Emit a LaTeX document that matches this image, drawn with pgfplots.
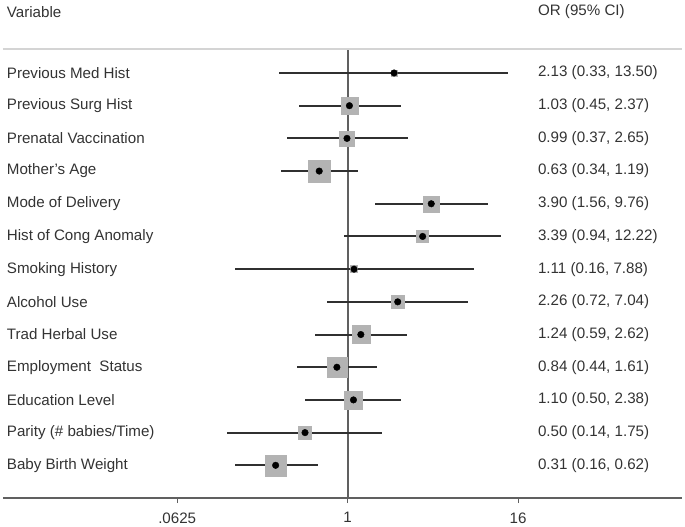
\documentclass[border=0pt]{standalone}
\usepackage{fontspec}
\setmainfont{Liberation Sans}
\usepackage{pgfplots}
\usepackage{pgfplotstable}
\pgfplotsset{compat=1.18}

\definecolor{txt}{HTML}{333333}
\definecolor{sq}{HTML}{B3B3B3}
\definecolor{ci}{HTML}{303030}
\definecolor{refl}{HTML}{606060}
\definecolor{topl}{HTML}{D4D4D4}
\newcommand\f{\fontsize{15.2}{18}\selectfont}

% pos: 13 = top row ... 1 = bottom row; w = half side of gray box (pt)
\pgfplotstableread{
pos or   lo   hi    w    label                     ci
13  2.13 0.33 13.50 3.0  {Previous Med Hist}       {2.13 (0.33, 13.50)}
12  1.03 0.45 2.37  8.5  {Previous Surg Hist}      {1.03 (0.45, 2.37)}
11  0.99 0.37 2.65  7.5  {Prenatal Vaccination}    {0.99 (0.37, 2.65)}
10  0.63 0.34 1.19  11.0 {Mother's Age}            {0.63 (0.34, 1.19)}
9   3.90 1.56 9.76  8.0  {Mode of Delivery}        {3.90 (1.56, 9.76)}
8   3.39 0.94 12.22 6.0  {Hist of Cong Anomaly}    {3.39 (0.94, 12.22)}
7   1.11 0.16 7.88  3.5  {Smoking History}         {1.11 (0.16, 7.88)}
6   2.26 0.72 7.04  6.5  {Alcohol Use}             {2.26 (0.72, 7.04)}
5   1.24 0.59 2.62  9.0  {Trad Herbal Use}         {1.24 (0.59, 2.62)}
4   0.84 0.44 1.61  10.0 {Employment\ \ Status}    {0.84 (0.44, 1.61)}
3   1.10 0.50 2.38  9.0  {Education Level}         {1.10 (0.50, 2.38)}
2   0.50 0.14 1.75  6.5  {Parity (\# babies/Time)} {0.50 (0.14, 1.75)}
1   0.31 0.16 0.62  10.5 {Baby Birth Weight}       {0.31 (0.16, 0.62)}
}\data

\begin{document}
\begin{tikzpicture}
\path[use as bounding box] (0,0) rectangle (685bp,527bp);
\begin{axis}[
    at={(3bp,29bp)}, anchor=south west,
    scale only axis,
    width=679bp, height=449bp,
    xmode=log, log basis x=2,
    xmin=0.00367, xmax=230.7,
    ymin=0, ymax=13.734,
    axis x line*=bottom,
    axis y line=none,
    x axis line style={draw=refl, line width=1.3pt, -},
    xtick={0.0625,1,16},
    xticklabels={.0625,1,16},
    minor xtick={},
    tick align=outside,
    major tick length=5bp,
    x tick style={draw=refl, line width=1pt},
    xticklabel style={font=\f, text=txt, yshift=-6bp},
    /pgf/number format/assume math mode=true,
    clip=false,
]
% weight boxes
\addplot[scatter, only marks, mark=square*,
    scatter/use mapped color={draw=sq, fill=sq},
    visualization depends on={\thisrow{w} \as \msz},
    scatter/@pre marker code/.append style={/tikz/mark size=\msz}]
    table[x=or, y=pos, meta=w] {\data};
% reference line at OR = 1
\addplot[refl, line width=2pt] coordinates {(1,0) (1,13.734)};
% confidence intervals
\addplot[draw=none, mark=none,
    error bars/.cd, x dir=both, x explicit,
    error mark=none,
    error bar style={ci, line width=2pt}]
    table[x=or, y=pos,
      x error plus expr=\thisrow{hi}-\thisrow{or},
      x error minus expr=\thisrow{or}-\thisrow{lo}] {\data};
% point estimates
\addplot[only marks, mark=*, mark size=3.3pt, black]
    table[x=or, y=pos] {\data};
% left labels
\addplot[draw=none, mark=none, nodes near coords, point meta=explicit symbolic,
    every node near coord/.append style={anchor=west, inner sep=0pt, font=\f, text=txt}]
    table[x expr=0.0039, y=pos, meta=label] {\data};
% right labels
\addplot[draw=none, mark=none, nodes near coords, point meta=explicit symbolic,
    every node near coord/.append style={anchor=west, inner sep=0pt, font=\f, text=txt}]
    table[x expr=22.1, y=pos, meta=ci] {\data};
\draw[topl, line width=1.3pt] (axis description cs:0,1) -- (axis description cs:1,1);
\node[anchor=west, inner sep=0pt, font=\f, text=txt] at (axis cs:0.0039,14.865) {Variable};
\node[anchor=west, inner sep=0pt, font=\f, text=txt] at (axis cs:22.1,14.865) {OR (95\% CI)};
\end{axis}
\end{tikzpicture}
\end{document}
